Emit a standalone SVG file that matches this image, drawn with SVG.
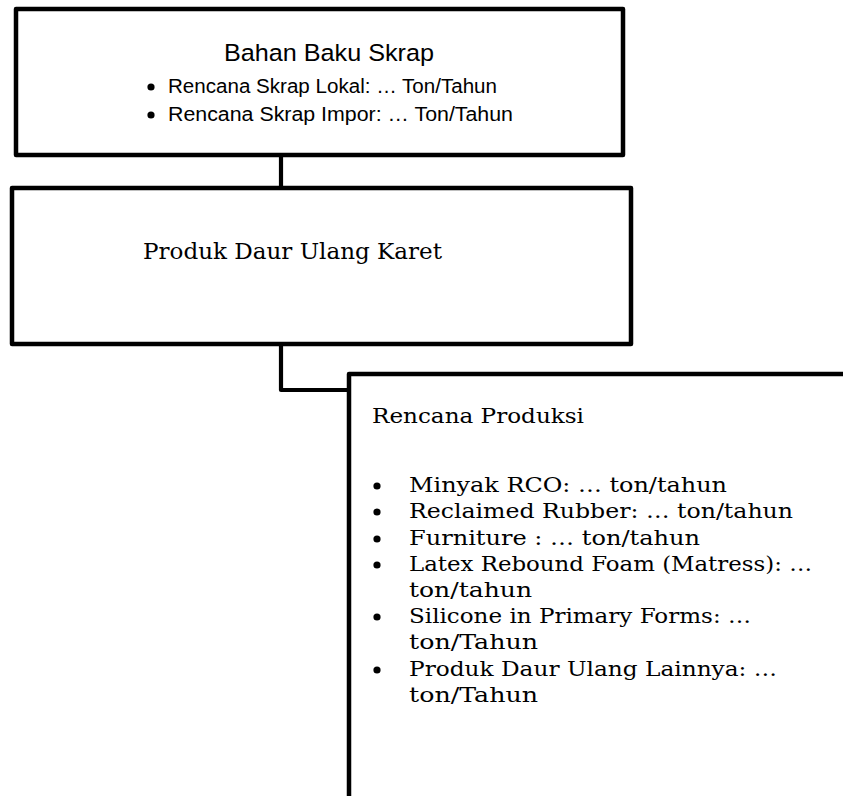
<svg xmlns="http://www.w3.org/2000/svg" width="843" height="796" viewBox="0 0 843 796">
<style>
.box{fill:#fff;stroke:#000;stroke-width:4.5;stroke-linejoin:round}
.con{fill:none;stroke:#000;stroke-width:4.2;stroke-linejoin:round}
.sans{font-family:"Liberation Sans",Arial,sans-serif;fill:#000}
.serif{font-family:"DejaVu Serif","Liberation Serif",serif;fill:#000}
.dot{fill:#000}
</style>
<rect width="843" height="796" fill="#fff"/>
<g id="connectors">
<path class="con" d="M281 155 V188"/>
<path class="con" d="M281 344 V390 H349"/>
</g>
<g id="node-bahan-baku">
<rect class="box" x="16" y="9" width="607" height="146"/>
<text class="sans" x="329" y="61" font-size="24.5" text-anchor="middle" textLength="210" lengthAdjust="spacingAndGlyphs">Bahan Baku Skrap</text>
<circle class="dot" cx="151" cy="87" r="3.6"/>
<text class="sans" x="168" y="93" font-size="20" textLength="329" lengthAdjust="spacingAndGlyphs">Rencana Skrap Lokal: … Ton/Tahun</text>
<circle class="dot" cx="151" cy="115" r="3.6"/>
<text class="sans" x="168" y="121" font-size="20" textLength="345" lengthAdjust="spacingAndGlyphs">Rencana Skrap Impor: … Ton/Tahun</text>
</g>
<g id="node-produk">
<rect class="box" x="12" y="188" width="619" height="156"/>
<text class="serif" x="143" y="259" font-size="22.5" textLength="299" lengthAdjust="spacingAndGlyphs">Produk Daur Ulang Karet</text>
</g>
<g id="node-rencana-produksi">
<rect class="box" x="349" y="374" width="600" height="500"/>
<text class="serif" x="372" y="423" font-size="21" textLength="212" lengthAdjust="spacingAndGlyphs">Rencana Produksi</text>
<g class="serif" font-size="21">
<circle class="dot" cx="377" cy="486" r="3.6"/>
<text x="409" y="492" textLength="318" lengthAdjust="spacingAndGlyphs">Minyak RCO: … ton/tahun</text>
<circle class="dot" cx="377" cy="512" r="3.6"/>
<text x="409" y="518" textLength="384" lengthAdjust="spacingAndGlyphs">Reclaimed Rubber: … ton/tahun</text>
<circle class="dot" cx="377" cy="539" r="3.6"/>
<text x="409" y="545" textLength="291" lengthAdjust="spacingAndGlyphs">Furniture : … ton/tahun</text>
<circle class="dot" cx="377" cy="565" r="3.6"/>
<text x="409" y="571" textLength="403" lengthAdjust="spacingAndGlyphs">Latex Rebound Foam (Matress): …</text>
<text x="409" y="597" textLength="123" lengthAdjust="spacingAndGlyphs">ton/tahun</text>
<circle class="dot" cx="377" cy="617" r="3.6"/>
<text x="409" y="623" textLength="342" lengthAdjust="spacingAndGlyphs">Silicone in Primary Forms: …</text>
<text x="409" y="649" textLength="129" lengthAdjust="spacingAndGlyphs">ton/Tahun</text>
<circle class="dot" cx="377" cy="670" r="3.6"/>
<text x="409" y="676" textLength="368" lengthAdjust="spacingAndGlyphs">Produk Daur Ulang Lainnya: …</text>
<text x="409" y="702" textLength="129" lengthAdjust="spacingAndGlyphs">ton/Tahun</text>
</g>
</g>
</svg>
